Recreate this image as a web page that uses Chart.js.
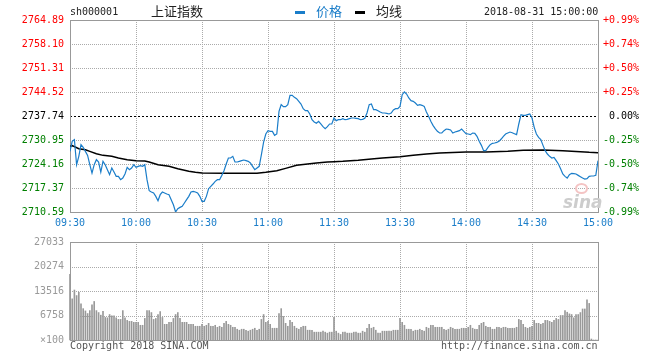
<!DOCTYPE html>
<html>
<head>
<meta charset="utf-8">
<script src="https://cdn.jsdelivr.net/npm/chart.js@4.4.0/dist/chart.umd.min.js"></script>
<style>
  body { margin: 0; background: #fff; width: 660px; height: 360px; overflow: hidden; position: relative; font-family: "DejaVu Sans Mono", monospace; }
  canvas { position: absolute; left: 0; }
  .t { position: absolute; white-space: nowrap; line-height: 1; }
  .cjk { font-family: "Noto Sans CJK SC", sans-serif; font-size: 13px; }
</style>
</head>
<body>
<canvas id="priceChart" width="660" height="230" style="top:0"></canvas>
<canvas id="volChart" width="660" height="130" style="top:230px"></canvas>

<div class="t" style="left:70px;top:7px;font-size:10px;color:#222">sh000001</div>
<div class="t cjk" style="left:151px;top:4px;color:#222">上证指数</div>
<div class="t" style="left:295px;top:11px;width:10px;height:3px;background:#1a7dc9"></div>
<div class="t cjk" style="left:316px;top:4px;color:#1a7dc9">价格</div>
<div class="t" style="left:355px;top:11px;width:10px;height:3px;background:#000"></div>
<div class="t cjk" style="left:376px;top:4px;color:#222">均线</div>
<div class="t" style="left:484px;top:7px;font-size:10px;color:#222">2018-08-31 15:00:00</div>

<div class="t" style="left:575px;top:183px;width:9px;height:7px;border:2px solid #f4c4c4;border-radius:50%"></div>
<div class="t" style="left:563px;top:192px;font:italic bold 17px 'DejaVu Sans',sans-serif;color:#cdcdcd">sina</div>

<div class="t" style="left:70px;top:341px;font-size:10px;color:#555">Copyright 2018 SINA.COM</div>
<div class="t" style="left:441px;top:341px;font-size:10px;color:#555">http://finance.sina.com.cn</div>

<script>
// previous close and axis ticks
const prevClose = 2737.74;
const priceTicks = [2710.59, 2717.37, 2724.16, 2730.95, 2737.74, 2744.52, 2751.31, 2758.10, 2764.89];
const pctLabels = ['-0.99%', '-0.74%', '-0.50%', '-0.25%', ' 0.00%', '+0.25%', '+0.50%', '+0.74%', '+0.99%'];
const timeTicks = [0, 30, 60, 90, 120, 150, 180, 210, 240];
const timeLabels = ['09:30', '10:00', '10:30', '11:00', '11:30', '13:30', '14:00', '14:30', '15:00'];
const volTicks = [0, 6758, 13516, 20274, 27033];
const volLabels = ['\u00d7100', '6758', '13516', '20274', '27033'];

// price, one value per minute (09:30-11:30, 13:01-15:00)
const priceValues = [
  2727.74, 2730.57, 2731.05, 2723.97, 2726.33, 2729.63, 2728.88, 2727.74, 2726.61, 2723.97,
  2721.61, 2723.97, 2725.39, 2724.73, 2721.90, 2724.92, 2723.97, 2722.56, 2721.14, 2723.03,
  2721.90, 2720.67, 2720.67, 2719.73, 2720.20, 2721.33, 2723.22, 2722.56, 2723.03, 2723.97,
  2723.22, 2723.50, 2723.69, 2723.50, 2723.97, 2719.73, 2716.62, 2716.24, 2715.96, 2715.01,
  2713.79, 2715.49, 2716.24, 2715.96, 2715.67, 2715.49, 2714.07, 2712.65, 2710.59, 2711.52,
  2711.90, 2712.18, 2713.13, 2714.07, 2715.01, 2716.24, 2716.43, 2716.24, 2715.96, 2715.01,
  2713.60, 2713.60, 2715.01, 2717.18, 2717.84, 2718.50, 2719.26, 2719.73, 2719.73, 2720.95,
  2722.27, 2724.16, 2725.86, 2725.86, 2726.33, 2724.73, 2724.73, 2724.92, 2725.10, 2725.29,
  2725.10, 2724.92, 2724.44, 2723.50, 2722.56, 2723.03, 2723.50, 2726.80, 2730.38, 2732.65,
  2733.59, 2733.40, 2733.40, 2732.27, 2732.65, 2739.06, 2740.95, 2740.38, 2740.38, 2740.95,
  2743.59, 2743.59, 2743.02, 2742.64, 2741.89, 2741.13, 2739.81, 2739.25, 2739.25, 2738.31,
  2736.70, 2736.04, 2735.67, 2736.23, 2735.48, 2734.72, 2734.16, 2734.72, 2735.48, 2735.48,
  2737.17, 2736.42, 2736.70, 2736.70, 2736.99, 2736.70, 2736.80, 2736.99, 2737.17, 2737.17,
  2737.08, 2736.99, 2736.70, 2736.80, 2737.08, 2738.59, 2740.95, 2741.13, 2739.53, 2739.53,
  2739.25, 2738.87, 2738.59, 2738.59, 2738.49, 2738.31, 2738.59, 2739.44, 2739.81, 2739.81,
  2740.47, 2743.77, 2744.53, 2743.96, 2742.83, 2742.08, 2741.89, 2741.42, 2740.76, 2740.95,
  2740.76, 2740.47, 2738.87, 2737.65, 2736.23, 2735.10, 2734.16, 2733.40, 2732.93, 2732.93,
  2733.59, 2734.06, 2733.97, 2733.78, 2732.93, 2733.21, 2733.40, 2733.59, 2734.06, 2733.40,
  2732.74, 2732.65, 2732.46, 2732.93, 2732.84, 2731.99, 2730.57, 2729.44, 2727.93, 2727.93,
  2728.88, 2729.63, 2730.01, 2730.11, 2730.29, 2730.57, 2731.23, 2731.99, 2732.65, 2732.93,
  2733.21, 2733.02, 2732.74, 2732.46, 2735.48, 2738.12, 2737.93, 2737.93, 2738.12, 2738.31,
  2737.17, 2734.53, 2732.65, 2731.71, 2731.05, 2729.44, 2727.93, 2726.99, 2726.33, 2725.86,
  2726.05, 2725.10, 2724.16, 2722.84, 2721.33, 2720.67, 2720.20, 2721.14, 2721.52, 2721.42,
  2721.33, 2720.95, 2720.58, 2720.20, 2719.92, 2720.01, 2720.67, 2720.77, 2720.77, 2720.95,
  2725.10
];

// average price line, read at these minutes
const avgMinutes = [0, 1, 4, 7, 9, 12, 15, 19, 22, 26, 30, 34, 36, 40, 45, 49, 54, 57, 60,
  70, 85, 89, 94, 98, 103, 108, 112, 117, 120, 124, 131, 137, 142, 150, 156, 162, 168, 177,
  180, 189, 199, 206, 215, 224, 232, 236, 240];
const avgValues = [2729.16, 2729.35, 2728.50, 2728.21, 2727.74, 2727.08, 2726.61, 2726.33,
  2725.86, 2725.39, 2725.10, 2725.01, 2724.73, 2723.97, 2723.50, 2722.84, 2722.09, 2721.80,
  2721.61, 2721.52, 2721.56, 2721.80, 2722.27, 2722.93, 2723.78, 2724.16, 2724.44, 2724.73,
  2724.82, 2724.92, 2725.20, 2725.58, 2725.86, 2726.24, 2726.61, 2726.99, 2727.27, 2727.46,
  2727.55, 2727.55, 2727.74, 2728.03, 2728.12, 2727.93, 2727.65, 2727.46, 2727.36];

// volume per minute, in units of 100 shares
const volValues = [
  18110, 11350, 13790, 12260, 13160, 10000, 8650, 8020, 7300, 8110,
  9730, 10630, 8110, 7570, 6850, 7930, 6220, 6130, 7030, 6670,
  6670, 6130, 5680, 5680, 8110, 6130, 5410, 5140, 5140, 4870,
  4870, 4870, 4060, 4060, 5950, 8110, 8110, 7570, 5680, 5950,
  7030, 7840, 6220, 4330, 4330, 4870, 4870, 5950, 7030, 7570,
  5950, 4870, 4870, 4870, 4330, 4330, 4330, 3790, 3790, 3790,
  4330, 3790, 4060, 4600, 3790, 3790, 4060, 3510, 3790, 3510,
  4600, 5140, 4330, 4060, 3510, 3510, 2970, 2700, 2970, 2970,
  2700, 2430, 2700, 2970, 3240, 2700, 2970, 5680, 7030, 4870,
  5140, 4330, 3240, 3240, 3240, 7300, 8650, 6490, 4600, 3790,
  5410, 4870, 3790, 3240, 2970, 3510, 3790, 3790, 2700, 2700,
  2700, 2160, 2160, 2160, 2160, 2430, 2160, 1890, 2160, 2160,
  6220, 2430, 1890, 1530, 2160, 2160, 1890, 1890, 1890, 2160,
  2160, 1890, 1890, 2430, 2160, 3240, 4330, 3240, 3510, 2700,
  1890, 1890, 2430, 2430, 2430, 2430, 2430, 2700, 2700, 2700,
  5950, 4870, 4060, 2970, 2970, 2970, 2430, 2700, 2700, 2970,
  2700, 2430, 3510, 3240, 4060, 4060, 3510, 3510, 3510, 3510,
  2970, 2700, 2970, 3510, 3240, 2970, 2970, 2970, 3240, 3240,
  3240, 3510, 4060, 3240, 2970, 2970, 4060, 4600, 4870, 3790,
  3510, 3510, 2970, 2970, 3510, 3510, 3240, 3510, 3510, 3240,
  3240, 3240, 3240, 3510, 5680, 5410, 4330, 3510, 3240, 3510,
  3790, 5410, 4600, 4600, 4330, 4600, 5410, 5410, 5140, 4870,
  5410, 5950, 5680, 6760, 6760, 8110, 7660, 7210, 7030, 6130,
  7030, 7030, 7570, 8560, 8560, 11080, 10090, 270, 0, 0,
  0
];

const monoFont = { family: "'DejaVu Sans Mono', monospace", size: 10 };
const noGrid = { display: false, drawTicks: false };

function line(ctx, x1, y1, x2, y2) {
  ctx.beginPath();
  ctx.moveTo(x1, y1);
  ctx.lineTo(x2, y2);
  ctx.stroke();
}

// dotted grid, dashed previous-close line and plot border
const gridPlugin = {
  id: 'sinaGrid',
  beforeDatasetsDraw(chart, args, opts) {
    const { ctx, chartArea: a, scales } = chart;
    ctx.save();
    ctx.lineWidth = 1;
    ctx.strokeStyle = '#aaa';
    ctx.setLineDash([1, 1]);
    timeTicks.forEach(m => {
      if (m === 0 || m === 240) return;
      const px = Math.round(scales.x.getPixelForValue(m)) + 0.5;
      line(ctx, px, a.top, px, a.bottom);
    });
    opts.yTicks.forEach(v => {
      const py = Math.round(scales.y.getPixelForValue(v)) + 0.5;
      if (opts.center !== undefined && v === opts.center) {
        ctx.save();
        ctx.strokeStyle = '#000';
        ctx.setLineDash([2, 2]);
        line(ctx, a.left, py, a.right, py);
        ctx.restore();
      } else {
        line(ctx, a.left, py, a.right, py);
      }
    });
    ctx.setLineDash([]);
    ctx.strokeStyle = '#999';
    ctx.strokeRect(Math.round(a.left) + 0.5, Math.round(a.top) + 0.5,
      Math.round(a.right - a.left), Math.round(a.bottom - a.top));
    ctx.restore();
  }
};

new Chart(document.getElementById('priceChart'), {
  type: 'line',
  data: {
    datasets: [{
      label: '价格',
      data: priceValues.map((v, i) => ({ x: i, y: v })),
      borderColor: '#1a7dc9',
      borderWidth: 1.2,
      pointRadius: 0,
      tension: 0
    }, {
      label: '均线',
      data: avgMinutes.map((m, i) => ({ x: m, y: avgValues[i] })),
      borderColor: '#000',
      borderWidth: 1.5,
      pointRadius: 0,
      tension: 0
    }]
  },
  options: {
    responsive: false,
    animation: false,
    layout: { padding: { top: 20, bottom: 0, left: 0, right: 0 } },
    plugins: {
      legend: { display: false },
      tooltip: { enabled: false },
      sinaGrid: { yTicks: priceTicks, center: prevClose }
    },
    scales: {
      x: {
        type: 'linear', min: 0, max: 240,
        grid: noGrid, border: { display: false },
        afterBuildTicks: s => { s.ticks = timeTicks.map(v => ({ value: v })); },
        afterFit: s => { s.height = 18; },
        ticks: {
          autoSkip: false, maxRotation: 0, padding: 5,
          color: '#1a7dc9', font: monoFont,
          callback: (v, i) => timeLabels[i]
        }
      },
      y: {
        position: 'left', min: priceTicks[0], max: priceTicks[priceTicks.length - 1],
        grid: noGrid, border: { display: false },
        afterBuildTicks: s => { s.ticks = priceTicks.map(v => ({ value: v })); },
        afterFit: s => { s.width = 70; },
        ticks: {
          padding: 6, font: monoFont,
          color: c => c.tick.value > prevClose ? '#f00' : (c.tick.value < prevClose ? '#008000' : '#000'),
          callback: v => v.toFixed(2)
        }
      },
      yr: {
        position: 'right', min: priceTicks[0], max: priceTicks[priceTicks.length - 1],
        grid: noGrid, border: { display: false },
        afterBuildTicks: s => { s.ticks = priceTicks.map(v => ({ value: v })); },
        afterFit: s => { s.width = 62; },
        ticks: {
          padding: 5, font: monoFont,
          color: c => c.tick.value > prevClose ? '#f00' : (c.tick.value < prevClose ? '#008000' : '#000'),
          callback: (v, i) => pctLabels[i]
        }
      }
    }
  },
  plugins: [gridPlugin]
});

new Chart(document.getElementById('volChart'), {
  type: 'bar',
  data: {
    datasets: [{
      data: volValues.map((v, i) => ({ x: i, y: v })),
      backgroundColor: '#999',
      barThickness: 1,
      borderWidth: 0,
      clip: false
    }]
  },
  options: {
    responsive: false,
    animation: false,
    layout: { padding: { top: 10, bottom: 0, left: 0, right: 62 } },
    plugins: {
      legend: { display: false },
      tooltip: { enabled: false },
      sinaGrid: { yTicks: volTicks }
    },
    scales: {
      x: {
        type: 'linear', min: 0, max: 240, offset: false,
        grid: noGrid, border: { display: false },
        afterFit: s => { s.height = 20; },
        ticks: { display: false }
      },
      y: {
        min: 0, max: volTicks[volTicks.length - 1],
        grid: noGrid, border: { display: false },
        afterBuildTicks: s => { s.ticks = volTicks.map(v => ({ value: v })); },
        afterFit: s => { s.width = 70; },
        ticks: {
          padding: 6, font: monoFont, color: '#999',
          callback: (v, i) => volLabels[i]
        }
      }
    }
  },
  plugins: [gridPlugin]
});
</script>
</body>
</html>
